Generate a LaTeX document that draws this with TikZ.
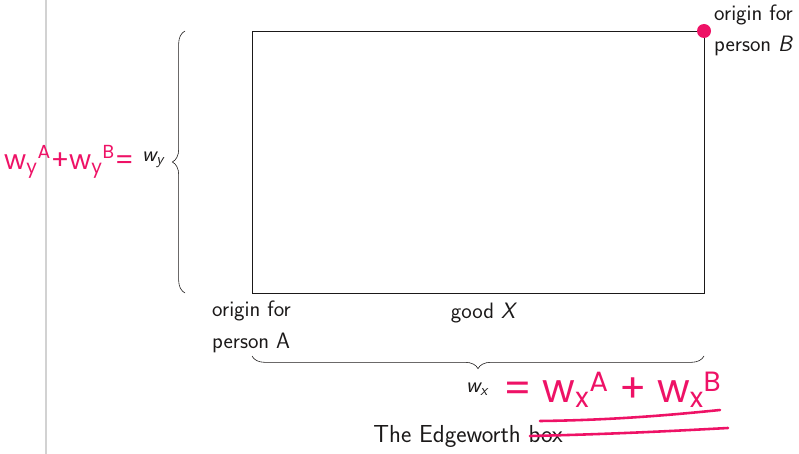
\documentclass[tikz,border=0pt]{standalone}
\usepackage{amsmath}
\usepackage{fontspec}
\newfontfamily\handfont{Poppins}
\usepackage{xcolor}
\usetikzlibrary{positioning,calc,decorations.pathreplacing}
\definecolor{ink}{HTML}{1B1919}
\definecolor{marker}{HTML}{EE1266}
\definecolor{rulegray}{HTML}{D2D2D2}
\newcommand{\sfit}[1]{{\sffamily\slshape #1}}
\newcommand{\penw}[2]{w\textsubscript{#1}\textsuperscript{#2}}

\begin{document}
\begin{tikzpicture}[x=0.03cm, y=-0.03cm,
  lbl/.style={font=\sffamily\fontsize{19}{22}\selectfont, text=ink, inner sep=0pt},
  brc/.style={decorate, decoration={brace, amplitude=0.38cm}, draw=ink, line width=0.5pt},
  pen/.style={font=\handfont\fontsize{34}{36}\selectfont, text=marker, inner sep=0pt},
  stroke/.style={draw=marker, line width=2.2pt, line cap=round}]
\useasboundingbox (0,0) rectangle (799,454);
\draw[rulegray, line width=1.5pt] (46,0) -- (46,454);
\coordinate (oA) at (252,293);
\coordinate (oB) at (704,31);
\draw[ink, line width=0.6pt] (oA) rectangle (oB);
\coordinate (bl1) at (185,293);
\coordinate (bl2) at (185,31);
\draw[brc] (bl1) -- (bl2);
\coordinate (bb1) at (704,356);
\coordinate (bb2) at (252,356);
\draw[brc] (bb1) -- (bb2);
\node[lbl, anchor=west] (oAtop) at (212,311) {origin for};
\node[lbl, anchor=west] (oAbot) at (212,343) {person A};
\node[lbl] (goodx) at (483,313) {good \sfit{X}};
\node[lbl, anchor=west] (oBtop) at (714,15) {origin for};
\node[lbl, anchor=west] (oBbot) at (714,46) {person \sfit{B}};
\node[lbl] (wy) at (153,160) {\sfit{w}\textsubscript{\sfit{y}}};
\node[lbl] (wx) at (477,389) {\sfit{w}\textsubscript{\sfit{x}}};
\node[lbl, font=\sffamily\fontsize{21}{24}\selectfont] (title) at (468,436) {The Edgeworth box};
\fill[marker] (oB) circle[radius=0.21cm];
\node[pen, anchor=west, font=\handfont\fontsize{23}{26}\selectfont] (sumy) at (4,162) {\penw{y}{A}+\penw{y}{B}=};
\node[pen, anchor=west] (sumx) at (503,390) {= \penw{x}{A} + \penw{x}{B}};
\draw[stroke] (540,421) .. controls (620,420) and (680,414) .. (720,410);
\draw[stroke] (530,436) .. controls (620,434) and (690,430) .. (728,428);
\end{tikzpicture}
\end{document}
